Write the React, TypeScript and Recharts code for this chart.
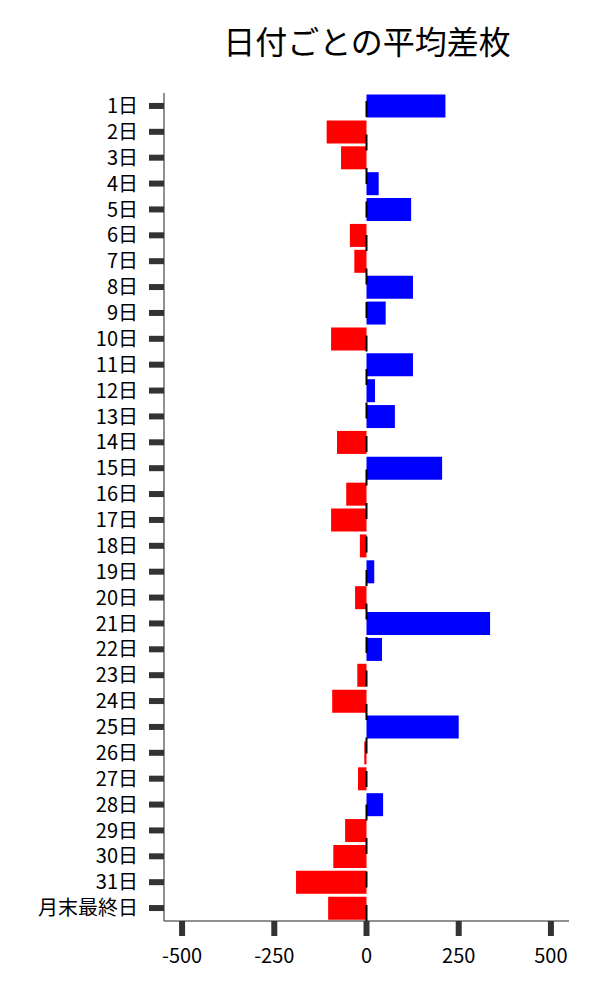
import React from 'react';
import { BarChart, Bar, XAxis, YAxis, Cell, ReferenceLine } from 'recharts';

const days = [
  '1日', '2日', '3日', '4日', '5日', '6日', '7日', '8日', '9日', '10日',
  '11日', '12日', '13日', '14日', '15日', '16日', '17日', '18日', '19日', '20日',
  '21日', '22日', '23日', '24日', '25日', '26日', '27日', '28日', '29日', '30日',
  '31日', '月末最終日',
];

const avgDiff = [
  214, -108, -69, 33, 121, -45, -33, 126, 52, -96,
  126, 23, 77, -80, 205, -55, -96, -18, 21, -31,
  335, 42, -25, -93, 250, -6, -23, 45, -58, -90,
  -191, -104,
];

const xTicks = [-500, -250, 0, 250, 500];
const xDomain = [-549, 549];

const title = '日付ごとの平均差枚';
const positiveColor = '#0000FF';
const negativeColor = '#FF0000';

const data = days.map((day, i) => ({ day, value: avgDiff[i] }));

const FONT = "'Noto Sans CJK JP', 'Noto Sans CJK SC', sans-serif";

export default function App() {
  return (
    <div style={{ position: 'absolute', left: 0, top: 0, width: 600, height: 1000, fontFamily: FONT, background: '#fff' }}>
      <div
        style={{
          position: 'absolute',
          left: 167,
          width: 400,
          top: 20,
          textAlign: 'center',
          fontSize: 32,
          lineHeight: '40px',
          color: '#000',
          fontFamily: FONT,
        }}
      >
        {title}
      </div>
      <BarChart
        width={600}
        height={1000}
        data={data}
        layout="vertical"
        margin={{ top: 93, right: 31, bottom: 39, left: 0 }}
        barCategoryGap="6%"
      >
        <XAxis
          type="number"
          domain={xDomain}
          ticks={xTicks}
          allowDataOverflow
          height={40}
          tickSize={15}
          tickMargin={13}
          axisLine={{ stroke: '#222', strokeWidth: 1 }}
          tickLine={{ stroke: '#333', strokeWidth: 6 }}
          tick={{ fontSize: 20, fill: '#000', fontFamily: FONT }}
        />
        <YAxis
          type="category"
          dataKey="day"
          width={164}
          interval={0}
          tickSize={15}
          tickMargin={11}
          axisLine={{ stroke: '#222', strokeWidth: 1 }}
          tickLine={{ stroke: '#333', strokeWidth: 6 }}
          tick={{ fontSize: 20, fill: '#000', fontFamily: FONT }}
        />
        <Bar dataKey="value" isAnimationActive={false}>
          {data.map((d, i) => (
            <Cell key={i} fill={d.value >= 0 ? positiveColor : negativeColor} />
          ))}
        </Bar>
        <ReferenceLine x={0} stroke="#000" strokeWidth={2} strokeDasharray="16 17.5" />
      </BarChart>
    </div>
  );
}
